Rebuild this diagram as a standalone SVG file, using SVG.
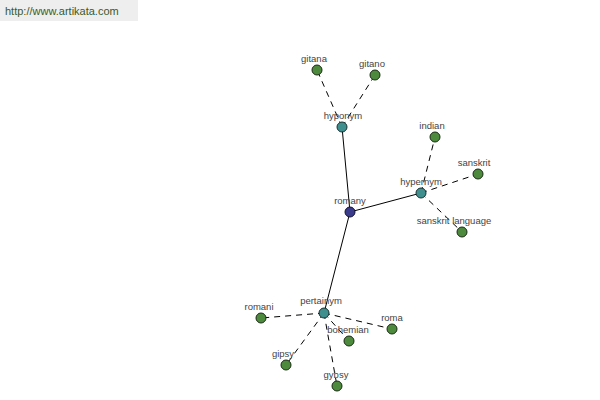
<svg xmlns="http://www.w3.org/2000/svg" width="600" height="400" viewBox="0 0 600 400">
<style>
.lbl{font-family:"Liberation Sans",Arial,sans-serif;font-size:9.5px;fill:#444;text-anchor:middle}
.solid{stroke:#000;stroke-width:1;fill:none}
.dash{stroke:#000;stroke-width:1;fill:none;stroke-dasharray:6,5}
.leaf{fill:#4d8a3e;stroke:#1a2a14;stroke-width:1}
.rel{fill:#3f8f8f;stroke:#1a3030;stroke-width:1}
.root{fill:#3b3b8c;stroke:#111133;stroke-width:1}
</style>
<rect x="0" y="0" width="138" height="21" fill="#eeeeee"/>
<text x="5" y="15" font-family="Liberation Sans,Arial,sans-serif" font-size="11" fill="#3a5a28">http://www.artikata.com</text>
<g id="connectors">
<line class="solid" x1="350" y1="212" x2="342" y2="127"/>
<line class="solid" x1="350" y1="212" x2="421" y2="193"/>
<line class="solid" x1="350" y1="212" x2="324" y2="313"/>
<line class="dash" x1="342" y1="127" x2="317" y2="70"/>
<line class="dash" x1="342" y1="127" x2="375" y2="75"/>
<line class="dash" x1="421" y1="193" x2="435" y2="137"/>
<line class="dash" x1="421" y1="193" x2="478" y2="174"/>
<line class="dash" x1="421" y1="193" x2="462" y2="232"/>
<line class="dash" x1="324" y1="313" x2="261" y2="318"/>
<line class="dash" x1="324" y1="313" x2="392" y2="329"/>
<line class="dash" x1="324" y1="313" x2="349" y2="341"/>
<line class="dash" x1="324" y1="313" x2="286" y2="365"/>
<line class="dash" x1="324" y1="313" x2="337" y2="386"/>
</g>
<g id="romany"><circle class="root" cx="350" cy="212" r="5"/><text class="lbl" x="350" y="204">romany</text></g>
<g id="hyponym"><circle class="rel" cx="342" cy="127" r="5"/><text class="lbl" x="343" y="119">hyponym</text></g>
<g id="hypernym"><circle class="rel" cx="421" cy="193" r="5"/><text class="lbl" x="421" y="185">hypernym</text></g>
<g id="pertainym"><circle class="rel" cx="324" cy="313" r="5"/><text class="lbl" x="321" y="304">pertainym</text></g>
<g id="gitana"><circle class="leaf" cx="317" cy="70" r="5"/><text class="lbl" x="314" y="62">gitana</text></g>
<g id="gitano"><circle class="leaf" cx="375" cy="75" r="5"/><text class="lbl" x="372" y="67">gitano</text></g>
<g id="indian"><circle class="leaf" cx="435" cy="137" r="5"/><text class="lbl" x="432" y="129">indian</text></g>
<g id="sanskrit"><circle class="leaf" cx="478" cy="174" r="5"/><text class="lbl" x="474" y="166">sanskrit</text></g>
<g id="sanskrit-language"><circle class="leaf" cx="462" cy="232" r="5"/><text class="lbl" x="454" y="224">sanskrit language</text></g>
<g id="romani"><circle class="leaf" cx="261" cy="318" r="5"/><text class="lbl" x="259" y="310">romani</text></g>
<g id="roma"><circle class="leaf" cx="392" cy="329" r="5"/><text class="lbl" x="392" y="321">roma</text></g>
<g id="bohemian"><circle class="leaf" cx="349" cy="341" r="5"/><text class="lbl" x="348" y="333">bohemian</text></g>
<g id="gipsy"><circle class="leaf" cx="286" cy="365" r="5"/><text class="lbl" x="283" y="357">gipsy</text></g>
<g id="gybsy"><circle class="leaf" cx="337" cy="386" r="5"/><text class="lbl" x="336" y="378">gybsy</text></g>
</svg>
